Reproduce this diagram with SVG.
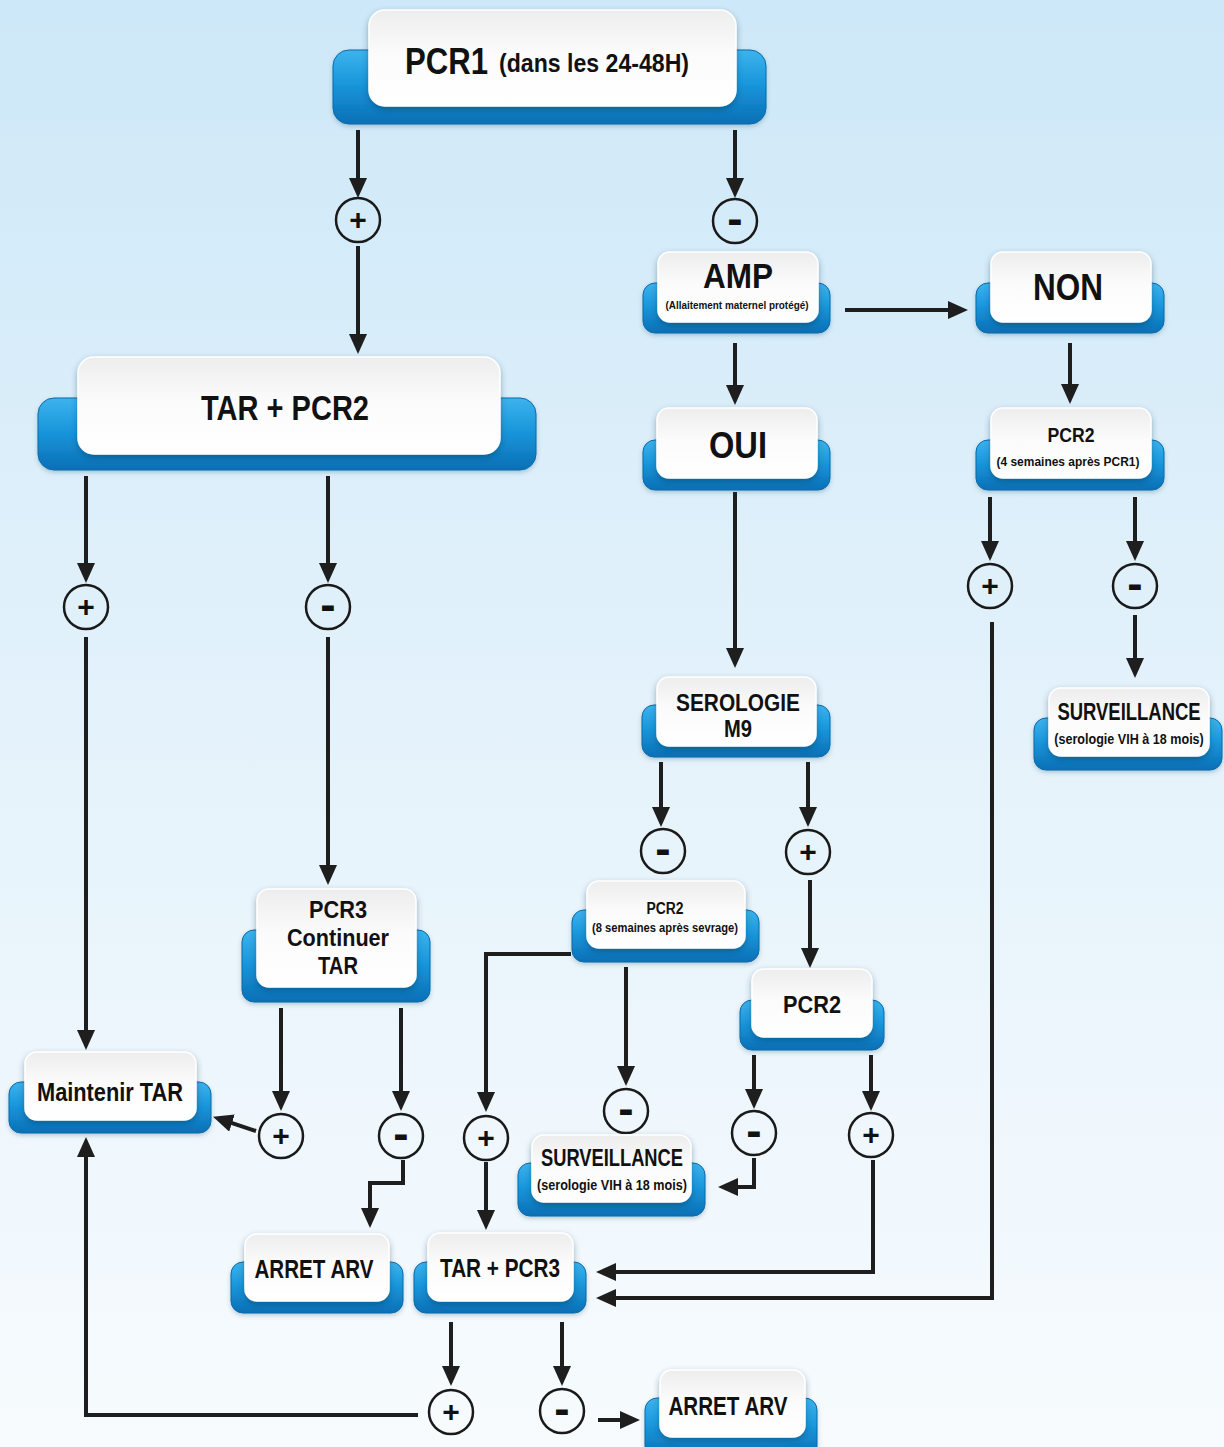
<svg xmlns="http://www.w3.org/2000/svg" width="1224" height="1447" viewBox="0 0 1224 1447">
  <defs>
    <linearGradient id="bg" x1="0" y1="0" x2="0" y2="1">
      <stop offset="0" stop-color="#cde8f8"/>
      <stop offset="0.55" stop-color="#e6f3fb"/>
      <stop offset="1" stop-color="#f7fbfe"/>
    </linearGradient>
    <linearGradient id="blue" x1="0" y1="0" x2="0" y2="1">
      <stop offset="0" stop-color="#3db3ee"/>
      <stop offset="0.45" stop-color="#1a97dc"/>
      <stop offset="1" stop-color="#0a6fb5"/>
    </linearGradient>
    <linearGradient id="white" x1="0" y1="0" x2="0" y2="1">
      <stop offset="0" stop-color="#ededed"/>
      <stop offset="0.45" stop-color="#fbfbfb"/>
      <stop offset="1" stop-color="#ffffff"/>
    </linearGradient>
    <filter id="shadow" x="-10%" y="-15%" width="120%" height="140%">
      <feDropShadow dx="0" dy="3" stdDeviation="3" flood-color="#0a3a5a" flood-opacity="0.4"/>
    </filter>
    <filter id="baseShadow" x="-10%" y="-15%" width="120%" height="140%">
      <feDropShadow dx="0" dy="2" stdDeviation="2" flood-color="#0a3a5a" flood-opacity="0.25"/>
    </filter>
    <marker id="head" viewBox="0 0 20 18" refX="14" refY="9" markerWidth="20" markerHeight="18" markerUnits="userSpaceOnUse" orient="auto">
      <path d="M0,0 L20,9 L0,18 Z" fill="#1e1e1e"/>
    </marker>
    <style>
      .base { fill: url(#blue); stroke: #0b6aa8; stroke-width: 1; filter: url(#baseShadow); }
      .card { fill: url(#white); stroke: #ffffff; stroke-width: 1.5; filter: url(#shadow); }
      .t { font-family: "Liberation Sans Narrow", "Liberation Sans", Arial, sans-serif; font-weight: bold; fill: #111; text-anchor: middle; }
      .ts { font-family: "Liberation Sans Narrow", "Liberation Sans", Arial, sans-serif; font-weight: bold; fill: #111; }
      .conn path { fill: none; stroke: #1e1e1e; stroke-width: 4; marker-end: url(#head); }
      .sign circle { fill: none; stroke: #1a1a1a; stroke-width: 2.5; }
      .sign text { font-family: "Liberation Sans", Arial, sans-serif; font-weight: bold; fill: #111; text-anchor: middle; }
      .sign .p { font-size: 30px; }
      .sign .m { font-size: 46px; }
    </style>
  </defs>

  <rect width="1224" height="1447" fill="url(#bg)"/>

  <!-- connectors -->
  <g id="connectors" class="conn">
    <path d="M358,130 V192"/>
    <path d="M358,246 V348"/>
    <path d="M735,130 V192"/>
    <path d="M735,343 V399"/>
    <path d="M845,310 H962"/>
    <path d="M1070,343 V398"/>
    <path d="M86,476 V577"/>
    <path d="M328,476 V577"/>
    <path d="M86,637 V1044"/>
    <path d="M328,637 V879"/>
    <path d="M735,492 V662"/>
    <path d="M990,497 V555"/>
    <path d="M1135,497 V555"/>
    <path d="M1135,615 V672"/>
    <path d="M992,622 V1298 H602"/>
    <path d="M661,762 V821"/>
    <path d="M808,762 V821"/>
    <path d="M810,880 V962"/>
    <path d="M571,954 H486 V1106"/>
    <path d="M626,967 V1080"/>
    <path d="M281,1008 V1105"/>
    <path d="M401,1008 V1105"/>
    <path d="M256,1131 L218.7,1118.7"/>
    <path d="M403,1160 V1183 H370 V1222"/>
    <path d="M486,1162 V1224"/>
    <path d="M754,1158 V1187 H724"/>
    <path d="M754,1055 V1103"/>
    <path d="M871,1055 V1105"/>
    <path d="M873,1160 V1272 H602"/>
    <path d="M451,1322 V1380"/>
    <path d="M562,1322 V1380"/>
    <path d="M418,1415 H86 V1143"/>
    <path d="M598,1420 H634"/>
  </g>

  <!-- +/- result markers -->
  <g id="signs" class="sign">
    <g id="s1"><circle cx="358" cy="220" r="22"/><text class="p" x="358" y="230">+</text></g>
    <g id="s2"><circle cx="735" cy="221" r="22"/><text class="m" x="735" y="234">-</text></g>
    <g id="s3"><circle cx="86" cy="607" r="22"/><text class="p" x="86" y="617">+</text></g>
    <g id="s4"><circle cx="328" cy="607" r="22"/><text class="m" x="328" y="620">-</text></g>
    <g id="s5"><circle cx="990" cy="586" r="22"/><text class="p" x="990" y="596">+</text></g>
    <g id="s6"><circle cx="1135" cy="586" r="22"/><text class="m" x="1135" y="599">-</text></g>
    <g id="s7"><circle cx="663" cy="851" r="22"/><text class="m" x="663" y="864">-</text></g>
    <g id="s8"><circle cx="808" cy="852" r="22"/><text class="p" x="808" y="862">+</text></g>
    <g id="s9"><circle cx="626" cy="1111" r="22"/><text class="m" x="626" y="1124">-</text></g>
    <g id="s10"><circle cx="281" cy="1136" r="22"/><text class="p" x="281" y="1146">+</text></g>
    <g id="s11"><circle cx="401" cy="1136" r="22"/><text class="m" x="401" y="1149">-</text></g>
    <g id="s12"><circle cx="486" cy="1138" r="22"/><text class="p" x="486" y="1148">+</text></g>
    <g id="s13"><circle cx="754" cy="1133" r="22"/><text class="m" x="754" y="1146">-</text></g>
    <g id="s14"><circle cx="871" cy="1135" r="22"/><text class="p" x="871" y="1145">+</text></g>
    <g id="s15"><circle cx="451" cy="1412" r="22"/><text class="p" x="451" y="1422">+</text></g>
    <g id="s16"><circle cx="562" cy="1411" r="22"/><text class="m" x="562" y="1424">-</text></g>
  </g>

  <!-- nodes -->
  <g id="n-pcr1">
    <rect class="base" x="333" y="50" width="433" height="74" rx="16"/>
    <rect class="card" x="369" y="10" width="367" height="96" rx="16"/>
    <text class="ts" x="405" y="74" font-size="36" textLength="83" lengthAdjust="spacingAndGlyphs">PCR1</text>
    <text class="ts" x="499" y="72" font-size="25" textLength="190" lengthAdjust="spacingAndGlyphs">(dans les 24-48H)</text>
  </g>

  <g id="n-amp">
    <rect class="base" x="643" y="283" width="187" height="50" rx="12"/>
    <rect class="card" x="658" y="252" width="160" height="70" rx="12"/>
    <text class="t" x="738" y="288" font-size="35" textLength="70" lengthAdjust="spacingAndGlyphs">AMP</text>
    <text class="t" x="737" y="309" font-size="11" textLength="143" lengthAdjust="spacingAndGlyphs">(Allaitement maternel protégé)</text>
  </g>

  <g id="n-non">
    <rect class="base" x="976" y="283" width="188" height="50" rx="12"/>
    <rect class="card" x="991" y="252" width="160" height="70" rx="12"/>
    <text class="t" x="1068" y="300" font-size="36" textLength="70" lengthAdjust="spacingAndGlyphs">NON</text>
  </g>

  <g id="n-tar-pcr2">
    <rect class="base" x="38" y="398" width="498" height="72" rx="16"/>
    <rect class="card" x="78" y="357" width="422" height="97" rx="16"/>
    <text class="t" x="285" y="420" font-size="35" textLength="168" lengthAdjust="spacingAndGlyphs">TAR + PCR2</text>
  </g>

  <g id="n-oui">
    <rect class="base" x="643" y="440" width="187" height="50" rx="12"/>
    <rect class="card" x="657" y="408" width="160" height="70" rx="12"/>
    <text class="t" x="738" y="458" font-size="36" textLength="58" lengthAdjust="spacingAndGlyphs">OUI</text>
  </g>

  <g id="n-pcr2-4s">
    <rect class="base" x="976" y="440" width="188" height="50" rx="12"/>
    <rect class="card" x="991" y="408" width="160" height="70" rx="12"/>
    <text class="t" x="1071" y="442" font-size="21" textLength="47" lengthAdjust="spacingAndGlyphs">PCR2</text>
    <text class="t" x="1068" y="466" font-size="13" textLength="143" lengthAdjust="spacingAndGlyphs">(4 semaines après  PCR1)</text>
  </g>

  <g id="n-serologie">
    <rect class="base" x="642" y="705" width="188" height="52" rx="12"/>
    <rect class="card" x="657" y="677" width="159" height="69" rx="12"/>
    <text class="t" x="738" y="711" font-size="24" textLength="124" lengthAdjust="spacingAndGlyphs">SEROLOGIE</text>
    <text class="t" x="738" y="737" font-size="24" textLength="28" lengthAdjust="spacingAndGlyphs">M9</text>
  </g>

  <g id="n-surv-right">
    <rect class="base" x="1034" y="718" width="188" height="52" rx="12"/>
    <rect class="card" x="1049" y="688" width="160" height="68" rx="12"/>
    <!-- narrowed horizontally so the labels stay inside the card -->
    <g transform="translate(1129,0) scale(0.8,1)">
      <text class="t" x="0" y="720" font-size="24" textLength="179" lengthAdjust="spacingAndGlyphs">SURVEILLANCE</text>
      <text class="t" x="0" y="744" font-size="15" textLength="187" lengthAdjust="spacingAndGlyphs">(serologie VIH à 18 mois)</text>
    </g>
  </g>

  <g id="n-pcr3-continuer">
    <rect class="base" x="242" y="930" width="188" height="72" rx="12"/>
    <rect class="card" x="257" y="889" width="159" height="98" rx="12"/>
    <text class="t" x="338" y="918" font-size="24" textLength="58" lengthAdjust="spacingAndGlyphs">PCR3</text>
    <text class="t" x="338" y="946" font-size="24" textLength="102" lengthAdjust="spacingAndGlyphs">Continuer</text>
    <text class="t" x="338" y="974" font-size="24" textLength="40" lengthAdjust="spacingAndGlyphs">TAR</text>
  </g>

  <g id="n-pcr2-8s">
    <rect class="base" x="572" y="910" width="187" height="52" rx="12"/>
    <rect class="card" x="587" y="881" width="158" height="67" rx="12"/>
    <text class="t" x="665" y="914" font-size="16" textLength="37" lengthAdjust="spacingAndGlyphs">PCR2</text>
    <text class="t" x="665" y="932" font-size="12.5" textLength="146" lengthAdjust="spacingAndGlyphs">(8 semaines après sevrage)</text>
  </g>

  <g id="n-pcr2-mid">
    <rect class="base" x="740" y="1000" width="144" height="50" rx="12"/>
    <rect class="card" x="752" y="969" width="120" height="68" rx="12"/>
    <text class="t" x="812" y="1013" font-size="24" textLength="58" lengthAdjust="spacingAndGlyphs">PCR2</text>
  </g>

  <g id="n-maintenir">
    <rect class="base" x="9" y="1082" width="202" height="51" rx="12"/>
    <rect class="card" x="25" y="1052" width="171" height="68" rx="12"/>
    <text class="t" x="110" y="1101" font-size="26" textLength="146" lengthAdjust="spacingAndGlyphs">Maintenir TAR</text>
  </g>

  <g id="n-surv-mid">
    <rect class="base" x="518" y="1163" width="187" height="53" rx="12"/>
    <rect class="card" x="532" y="1135" width="159" height="67" rx="12"/>
    <text class="t" x="612" y="1166" font-size="24" textLength="142" lengthAdjust="spacingAndGlyphs">SURVEILLANCE</text>
    <text class="t" x="612" y="1190" font-size="15" textLength="150" lengthAdjust="spacingAndGlyphs">(serologie VIH à 18 mois)</text>
  </g>

  <g id="n-arret-left">
    <rect class="base" x="231" y="1262" width="172" height="51" rx="12"/>
    <rect class="card" x="245" y="1234" width="144" height="67" rx="12"/>
    <text class="t" x="314" y="1278" font-size="25" textLength="119" lengthAdjust="spacingAndGlyphs">ARRET ARV</text>
  </g>

  <g id="n-tar-pcr3">
    <rect class="base" x="414" y="1262" width="172" height="51" rx="12"/>
    <rect class="card" x="428" y="1233" width="145" height="68" rx="12"/>
    <text class="t" x="500" y="1277" font-size="25" textLength="120" lengthAdjust="spacingAndGlyphs">TAR + PCR3</text>
  </g>

  <g id="n-arret-bottom">
    <rect class="base" x="645" y="1398" width="172" height="60" rx="12"/>
    <rect class="card" x="660" y="1370" width="145" height="67" rx="12"/>
    <text class="t" x="728" y="1415" font-size="25" textLength="119" lengthAdjust="spacingAndGlyphs">ARRET ARV</text>
  </g>
</svg>
